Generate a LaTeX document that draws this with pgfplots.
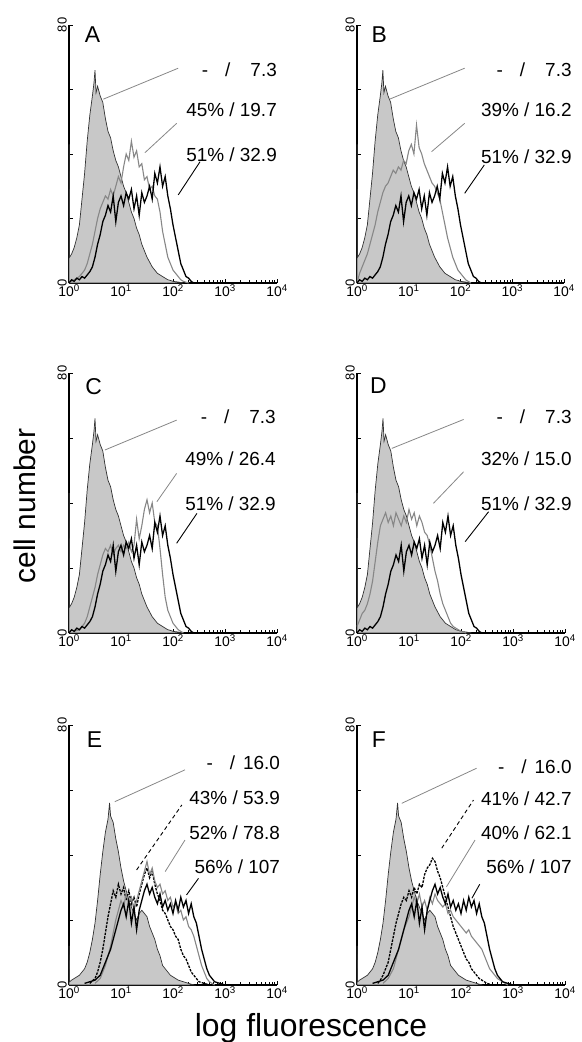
\documentclass[border=0pt]{standalone}
\usepackage{fontspec}
\setmainfont{Liberation Sans}
\usepackage{pgfplots}
\usepackage{pgfplotstable}
\pgfplotsset{compat=1.18}

\definecolor{negfill}{RGB}{200,200,200}
\definecolor{midgrey}{RGB}{135,135,135}
\definecolor{leadgrey}{RGB}{135,135,135}

% x = log10(fluorescence), y = cell number
% shared curves: negative control and 51%/32.9 (A-D), negative and 56%/107 (E-F)
\pgfplotstableread[row sep=\\]{
x y\\ 0 0\\ 0 43\\ 0.012 8\\ 0.05 9\\ 0.1 11\\ 0.15 14\\ 0.2 18\\ 0.25 26\\ 0.3 34\\ 0.35 44\\ 0.4 52\\ 0.45 58\\ 0.48 62\\ 0.5 66\\ 0.52 59\\ 0.55 61\\ 0.6 58\\ 0.65 56\\ 0.7 51\\ 0.75 47\\ 0.8 45\\ 0.85 41\\ 0.9 38\\ 0.95 36\\ 1.0 33\\ 1.05 30\\ 1.1 28\\ 1.15 25\\ 1.2 22\\ 1.25 20\\ 1.3 17\\ 1.35 15\\ 1.4 12\\ 1.45 10\\ 1.5 8\\ 1.55 6.5\\ 1.6 5\\ 1.65 4\\ 1.7 3\\ 1.75 2.5\\ 1.8 2\\ 1.85 1.5\\ 1.9 1\\ 1.95 0.8\\ 2.0 0.5\\ 2.1 0.3\\ 2.2 0\\
}\negAD
\pgfplotstableread[row sep=\\]{
x y\\ 0 0\\ 0.05 1\\ 0.1 0.5\\ 0.15 1.5\\ 0.2 1\\ 0.25 2\\ 0.3 1.5\\ 0.35 2.5\\ 0.4 3.5\\ 0.45 5\\ 0.5 8\\ 0.55 12\\ 0.6 15\\ 0.65 19\\ 0.7 21\\ 0.75 24\\ 0.8 22\\ 0.85 27\\ 0.9 19\\ 0.95 25\\ 1.0 27\\ 1.05 24\\ 1.1 28\\ 1.15 26\\ 1.2 29\\ 1.25 23\\ 1.3 27\\ 1.35 21\\ 1.4 28\\ 1.45 25\\ 1.5 27\\ 1.55 30\\ 1.6 26\\ 1.65 34\\ 1.7 31\\ 1.75 36\\ 1.8 30\\ 1.85 33\\ 1.9 27\\ 1.95 23\\ 2.0 18\\ 2.05 14\\ 2.1 10\\ 2.15 6\\ 2.2 4\\ 2.25 2\\ 2.3 1.5\\ 2.35 0.5\\ 2.4 0\\
}\blackAD
\pgfplotstableread[row sep=\\]{
x y\\ 0 0\\ 0.1 1\\ 0.2 2\\ 0.3 4\\ 0.35 6\\ 0.4 9\\ 0.45 12\\ 0.5 16\\ 0.55 20\\ 0.6 23\\ 0.65 25\\ 0.7 27\\ 0.75 26\\ 0.8 29\\ 0.85 27\\ 0.9 30\\ 0.95 33\\ 1.0 31\\ 1.05 36\\ 1.1 40\\ 1.15 38\\ 1.2 44\\ 1.25 39\\ 1.3 41\\ 1.35 36\\ 1.4 37\\ 1.45 32\\ 1.5 33\\ 1.55 29\\ 1.6 30\\ 1.65 27\\ 1.7 26\\ 1.75 22\\ 1.8 16\\ 1.85 12\\ 1.9 8\\ 1.95 6\\ 2.0 4\\ 2.05 3\\ 2.1 2\\ 2.15 1\\ 2.2 0.5\\ 2.3 0\\
}\greyA
\pgfplotstableread[row sep=\\]{
x y\\ 0 0\\ 0.05 3\\ 0.1 5\\ 0.15 7\\ 0.2 9\\ 0.25 12\\ 0.3 15\\ 0.35 18\\ 0.4 22\\ 0.45 25\\ 0.5 28\\ 0.55 30\\ 0.6 31\\ 0.65 33\\ 0.7 35\\ 0.75 34\\ 0.8 36\\ 0.85 35\\ 0.9 38\\ 0.95 37\\ 1.0 41\\ 1.05 43\\ 1.1 40\\ 1.15 49\\ 1.2 42\\ 1.25 40\\ 1.3 37\\ 1.35 35\\ 1.4 33\\ 1.45 31\\ 1.5 30\\ 1.55 28\\ 1.6 26\\ 1.65 22\\ 1.7 18\\ 1.75 14\\ 1.8 11\\ 1.85 8\\ 1.9 6\\ 1.95 4\\ 2.0 3\\ 2.05 2\\ 2.1 1\\ 2.2 0\\
}\greyB
\pgfplotstableread[row sep=\\]{
x y\\ 0.1 0.5\\ 0.2 1\\ 0.3 3\\ 0.35 5\\ 0.4 8\\ 0.45 11\\ 0.5 14\\ 0.55 18\\ 0.6 21\\ 0.65 24\\ 0.7 26\\ 0.75 25\\ 0.8 27\\ 0.85 24\\ 0.9 26\\ 0.95 27\\ 1.0 25\\ 1.05 27\\ 1.1 26\\ 1.15 28\\ 1.2 25\\ 1.25 27\\ 1.3 35\\ 1.35 29\\ 1.4 33\\ 1.45 38\\ 1.5 41\\ 1.55 37\\ 1.6 40\\ 1.65 34\\ 1.7 33\\ 1.75 26\\ 1.8 18\\ 1.85 11\\ 1.9 7\\ 1.95 5\\ 2.0 3\\ 2.05 2\\ 2.1 1\\ 2.2 0\\
}\greyC
\pgfplotstableread[row sep=\\]{
x y\\ 0 2\\ 0.05 4\\ 0.1 6\\ 0.15 7\\ 0.2 9\\ 0.25 12\\ 0.3 16\\ 0.35 22\\ 0.4 28\\ 0.45 33\\ 0.5 35\\ 0.55 37\\ 0.6 34\\ 0.65 36\\ 0.7 33\\ 0.75 37\\ 0.8 35\\ 0.85 33\\ 0.9 36\\ 0.95 34\\ 1.0 38\\ 1.05 35\\ 1.1 37\\ 1.15 33\\ 1.2 36\\ 1.25 34\\ 1.3 31\\ 1.35 30\\ 1.4 27\\ 1.45 23\\ 1.5 19\\ 1.55 16\\ 1.6 12\\ 1.65 9\\ 1.7 7\\ 1.75 5\\ 1.8 3\\ 1.85 2\\ 1.9 1.5\\ 2.0 0.5\\ 2.1 0\\
}\greyD
\pgfplotstableread[row sep=\\]{
x y\\ 0 0\\ 0 12\\ 0.012 1\\ 0.05 1.5\\ 0.1 2\\ 0.15 2.5\\ 0.2 3\\ 0.25 4\\ 0.3 5\\ 0.35 7\\ 0.4 10\\ 0.45 14\\ 0.5 19\\ 0.55 26\\ 0.6 34\\ 0.65 41\\ 0.7 47\\ 0.75 51\\ 0.78 56\\ 0.8 52\\ 0.85 50\\ 0.9 45\\ 0.95 41\\ 1.0 36\\ 1.05 32\\ 1.1 29\\ 1.15 26\\ 1.2 24\\ 1.25 22\\ 1.3 20\\ 1.35 22\\ 1.4 23\\ 1.45 22\\ 1.5 21\\ 1.55 18\\ 1.6 16\\ 1.65 14\\ 1.7 11\\ 1.75 9\\ 1.8 6\\ 1.85 5\\ 1.9 4\\ 1.95 3\\ 2.0 2.5\\ 2.05 2\\ 2.1 1.5\\ 2.2 1\\ 2.3 0.5\\ 2.4 0\\
}\negEF
\pgfplotstableread[row sep=\\]{
x y\\ 0.3 0.5\\ 0.4 1\\ 0.5 1.5\\ 0.6 3\\ 0.65 5\\ 0.7 7\\ 0.75 9\\ 0.8 11\\ 0.85 14\\ 0.9 17\\ 0.95 20\\ 1.0 23\\ 1.05 25\\ 1.1 21\\ 1.15 26\\ 1.2 19\\ 1.25 24\\ 1.3 17\\ 1.35 23\\ 1.4 26\\ 1.45 29\\ 1.5 31\\ 1.55 28\\ 1.6 30\\ 1.65 27\\ 1.7 25\\ 1.75 28\\ 1.8 24\\ 1.85 26\\ 1.9 23\\ 1.95 25\\ 2.0 22\\ 2.05 26\\ 2.1 23\\ 2.15 27\\ 2.2 24\\ 2.25 26\\ 2.3 22\\ 2.35 25\\ 2.4 21\\ 2.45 19\\ 2.5 15\\ 2.55 11\\ 2.6 8\\ 2.65 5\\ 2.7 3\\ 2.75 2\\ 2.8 1\\ 2.9 0.5\\ 3.0 0\\
}\blackEF
\pgfplotstableread[row sep=\\]{
x y\\ 0.4 0.5\\ 0.5 2\\ 0.55 4\\ 0.6 7\\ 0.65 11\\ 0.7 16\\ 0.75 21\\ 0.8 25\\ 0.85 29\\ 0.9 27\\ 0.95 31\\ 1.0 28\\ 1.05 30\\ 1.1 26\\ 1.15 29\\ 1.2 25\\ 1.25 27\\ 1.3 24\\ 1.35 28\\ 1.4 31\\ 1.45 34\\ 1.5 36\\ 1.55 33\\ 1.6 35\\ 1.65 31\\ 1.7 28\\ 1.75 26\\ 1.8 23\\ 1.85 22\\ 1.9 20\\ 1.95 18\\ 2.0 17\\ 2.05 15\\ 2.1 14\\ 2.15 11\\ 2.2 9\\ 2.25 8\\ 2.3 6\\ 2.35 4\\ 2.4 3\\ 2.45 2\\ 2.5 1\\ 2.6 0.5\\ 2.7 0\\
}\dashE
\pgfplotstableread[row sep=\\]{
x y\\ 0.5 0.5\\ 0.6 2\\ 0.65 4\\ 0.7 6\\ 0.75 9\\ 0.8 12\\ 0.85 16\\ 0.9 20\\ 0.95 23\\ 1.0 26\\ 1.05 24\\ 1.1 28\\ 1.15 25\\ 1.2 27\\ 1.25 23\\ 1.3 26\\ 1.35 29\\ 1.4 32\\ 1.45 35\\ 1.5 38\\ 1.55 34\\ 1.6 36\\ 1.65 32\\ 1.7 30\\ 1.75 31\\ 1.8 28\\ 1.85 29\\ 1.9 26\\ 1.95 27\\ 2.0 24\\ 2.05 25\\ 2.1 22\\ 2.15 23\\ 2.2 20\\ 2.25 21\\ 2.3 18\\ 2.35 17\\ 2.4 15\\ 2.45 12\\ 2.5 9\\ 2.55 6\\ 2.6 4\\ 2.65 2\\ 2.7 1\\ 2.8 0\\
}\greyE
\pgfplotstableread[row sep=\\]{
x y\\ 0.4 0.5\\ 0.45 1.5\\ 0.5 3\\ 0.55 5\\ 0.6 7\\ 0.65 11\\ 0.7 15\\ 0.75 19\\ 0.8 22\\ 0.85 25\\ 0.9 27\\ 0.95 26\\ 1.0 29\\ 1.05 27\\ 1.1 30\\ 1.15 28\\ 1.2 31\\ 1.25 30\\ 1.3 34\\ 1.35 36\\ 1.4 37\\ 1.45 39\\ 1.5 38\\ 1.55 35\\ 1.6 33\\ 1.65 30\\ 1.7 27\\ 1.75 24\\ 1.8 21\\ 1.85 18\\ 1.9 16\\ 1.95 14\\ 2.0 12\\ 2.05 10\\ 2.1 8\\ 2.15 7\\ 2.2 5\\ 2.25 4\\ 2.3 3\\ 2.35 2\\ 2.4 1.5\\ 2.5 0.5\\ 2.6 0\\
}\dashF
\pgfplotstableread[row sep=\\]{
x y\\ 0.5 0.5\\ 0.6 2\\ 0.7 5\\ 0.75 8\\ 0.8 11\\ 0.85 14\\ 0.9 17\\ 0.95 19\\ 1.0 21\\ 1.05 24\\ 1.1 27\\ 1.15 25\\ 1.2 28\\ 1.25 24\\ 1.3 26\\ 1.35 23\\ 1.4 27\\ 1.45 25\\ 1.5 28\\ 1.55 26\\ 1.6 25\\ 1.65 24\\ 1.7 25\\ 1.75 22\\ 1.8 23\\ 1.85 21\\ 1.9 20\\ 1.95 19\\ 2.0 18\\ 2.05 17\\ 2.1 16\\ 2.15 17\\ 2.2 15\\ 2.25 14\\ 2.3 13\\ 2.35 12\\ 2.4 11\\ 2.45 9\\ 2.5 7\\ 2.55 5\\ 2.6 4\\ 2.65 3\\ 2.7 2\\ 2.8 1\\ 2.9 0\\
}\greyF

\pgfplotsset{
  hist/.style={
    scale only axis, width=208bp, height=259bp, anchor=south west,
    xmin=0, xmax=4, ymin=0, ymax=80,
    axis lines*=left, axis line style={-, line width=1.1bp},
    xtick={0,1,2,3,4},
    xticklabels={10\textsuperscript{0},10\textsuperscript{1},10\textsuperscript{2},10\textsuperscript{3},10\textsuperscript{4}},
    minor xtick={0.301,0.477,0.602,0.699,0.778,0.845,0.903,0.954,
      1.301,1.477,1.602,1.699,1.778,1.845,1.903,1.954,
      2.301,2.477,2.602,2.699,2.778,2.845,2.903,2.954,
      3.301,3.477,3.602,3.699,3.778,3.845,3.903,3.954},
    ytick={0,20,40,60,80}, yticklabels={0,,,,80},
    tick align=inside, major tick length=3.5bp, minor tick length=2.5bp,
    tick style={black, line width=0.7bp},
    tick label style={font=\fontsize{14}{14}\selectfont},
    yticklabel style={rotate=90, anchor=south, inner sep=2bp, font=\fontsize{13}{13}\selectfont},
    xticklabel style={inner sep=1.5bp},
    clip=false,
  },
  neg/.style={sharp plot, fill=negfill, draw=black!80, line width=0.7bp},
  gr/.style={sharp plot, draw=midgrey, line width=1.1bp},
  bl/.style={sharp plot, draw=black, line width=1.3bp},
  da/.style={sharp plot, draw=black, line width=1.3bp, dash pattern=on 2.5bp off 1.2bp},
}
\tikzset{
  lbl/.style={font=\fontsize{19}{19}\selectfont, anchor=east, inner sep=0},
  letter/.style={font=\fontsize{23}{23}\selectfont, anchor=north west, inner sep=0},
}

\begin{document}
\begin{tikzpicture}
\useasboundingbox (0,0) rectangle (582bp,1042bp);

% A
\begin{axis}[hist, at={(69bp,759bp)}, height=258bp]
\addplot[neg] table {\negAD} \closedcycle;
\addplot[gr] table {\greyA};
\addplot[bl] table {\blackAD};
\node[letter] at (axis cs:0.3,79.5) {A};
\node[lbl] at (axis cs:4.0,66) {-\hspace{17bp}/\hspace{20bp}7.3};
\node[lbl] at (axis cs:4.0,53.6) {45\% / 19.7};
\node[lbl] at (axis cs:4.0,39.7) {51\% / 32.9};
\draw[leadgrey, line width=0.8bp] (axis cs:0.66,57) -- (axis cs:2.10,66.6);
\draw[leadgrey, line width=0.8bp] (axis cs:1.46,40.4) -- (axis cs:2.07,49.5);
\draw[black, line width=0.9bp] (axis cs:2.10,27.3) -- (axis cs:2.52,37.6);
\end{axis}

% B
\begin{axis}[hist, at={(357bp,759bp)}, height=258bp, width=207bp]
\addplot[neg] table {\negAD} \closedcycle;
\addplot[gr] table {\greyB};
\addplot[bl] table {\blackAD};
\node[letter] at (axis cs:0.28,79.5) {B};
\node[lbl] at (axis cs:4.15,66) {-\hspace{17bp}/\hspace{20bp}7.3};
\node[lbl] at (axis cs:4.15,53.6) {39\% / 16.2};
\node[lbl] at (axis cs:4.15,39.2) {51\% / 32.9};
\draw[leadgrey, line width=0.8bp] (axis cs:0.63,57) -- (axis cs:2.08,66.6);
\draw[leadgrey, line width=0.8bp] (axis cs:1.44,40.7) -- (axis cs:2.08,49.5);
\draw[black, line width=0.9bp] (axis cs:2.08,27.8) -- (axis cs:2.46,36.6);
\end{axis}

% C
\begin{axis}[hist, at={(69bp,409bp)}, height=260bp]
\addplot[neg] table {\negAD} \closedcycle;
\addplot[gr] table {\greyC};
\addplot[bl] table {\blackAD};
\node[letter] at (axis cs:0.31,78.5) {C};
\node[lbl] at (axis cs:3.98,66.5) {-\hspace{17bp}/\hspace{20bp}7.3};
\node[lbl] at (axis cs:3.98,53.7) {49\% / 26.4};
\node[lbl] at (axis cs:3.98,39.9) {51\% / 32.9};
\draw[leadgrey, line width=0.8bp] (axis cs:0.69,56.3) -- (axis cs:2.07,65.5);
\draw[leadgrey, line width=0.8bp] (axis cs:1.69,40.4) -- (axis cs:2.07,49.1);
\draw[black, line width=0.9bp] (axis cs:2.07,27.6) -- (axis cs:2.46,36.8);
\end{axis}

% D
\begin{axis}[hist, at={(357bp,409bp)}, height=260bp]
\addplot[neg] table {\negAD} \closedcycle;
\addplot[gr] table {\greyD};
\addplot[bl] table {\blackAD};
\node[letter] at (axis cs:0.25,78.5) {D};
\node[lbl] at (axis cs:4.13,66.5) {-\hspace{17bp}/\hspace{20bp}7.3};
\node[lbl] at (axis cs:4.13,53.7) {32\% / 15.0};
\node[lbl] at (axis cs:4.13,39.9) {51\% / 32.9};
\draw[leadgrey, line width=0.8bp] (axis cs:0.67,56.8) -- (axis cs:2.05,65.7);
\draw[leadgrey, line width=0.8bp] (axis cs:1.47,39.9) -- (axis cs:2.05,49.6);
\draw[black, line width=0.9bp] (axis cs:2.08,28.1) -- (axis cs:2.53,37.3);
\end{axis}

% E
\begin{axis}[hist, at={(69bp,57bp)}, height=260bp]
\addplot[neg] table {\negEF} \closedcycle;
\addplot[da] table {\dashE};
\addplot[gr] table {\greyE};
\addplot[bl] table {\blackEF};
\node[letter] at (axis cs:0.34,78) {E};
\node[lbl] at (axis cs:4.06,68.3) {-\hspace{17bp}/\hspace{8bp}16.0};
\node[lbl] at (axis cs:4.06,57.5) {43\% / 53.9};
\node[lbl] at (axis cs:4.06,46.8) {52\% / 78.8};
\node[lbl] at (axis cs:4.06,36.3) {56\% / 107};
\draw[leadgrey, line width=0.8bp] (axis cs:0.88,56.4) -- (axis cs:2.23,66.2);
\draw[black, line width=0.9bp, dash pattern=on 4bp off 3bp] (axis cs:1.30,35.4) -- (axis cs:2.17,55.4);
\draw[leadgrey, line width=0.8bp] (axis cs:1.85,34.9) -- (axis cs:2.23,44.6);
\draw[black, line width=0.9bp] (axis cs:2.26,27.7) -- (axis cs:2.49,32.8);
\end{axis}

% F
\begin{axis}[hist, at={(357bp,57bp)}, height=260bp]
\addplot[neg] table {\negEF} \closedcycle;
\addplot[da] table {\dashF};
\addplot[gr] table {\greyF};
\addplot[bl] table {\blackEF};
\node[letter] at (axis cs:0.28,78) {F};
\node[lbl] at (axis cs:4.13,67.2) {-\hspace{17bp}/\hspace{8bp}16.0};
\node[lbl] at (axis cs:4.13,57.4) {41\% / 42.7};
\node[lbl] at (axis cs:4.13,46.7) {40\% / 62.1};
\node[lbl] at (axis cs:4.13,36.4) {56\% / 107};
\draw[leadgrey, line width=0.8bp] (axis cs:0.86,55.9) -- (axis cs:2.30,66.7);
\draw[black, line width=0.9bp, dash pattern=on 4bp off 3bp] (axis cs:1.63,42.1) -- (axis cs:2.24,56.9);
\draw[leadgrey, line width=0.8bp] (axis cs:1.72,30.2) -- (axis cs:2.27,44.6);
\draw[black, line width=0.9bp] (axis cs:2.21,26.7) -- (axis cs:2.36,31);
\end{axis}

\node[rotate=90, anchor=base, font=\fontsize{30}{30}\selectfont] at (35bp,536bp) {cell number};
\node[anchor=base, font=\fontsize{32}{32}\selectfont] at (311bp,5.5bp) {log fluorescence};
\end{tikzpicture}
\end{document}
